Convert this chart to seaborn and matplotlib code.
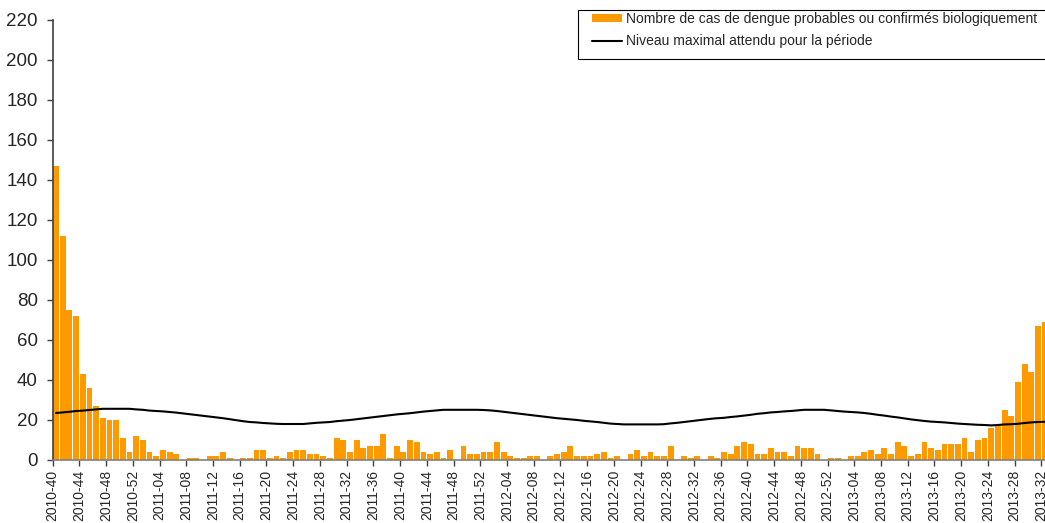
import matplotlib
matplotlib.use("Agg")
import matplotlib.pyplot as plt
import seaborn as sns
import numpy as np
import pandas as pd
from matplotlib.patches import Patch, Rectangle
from matplotlib.lines import Line2D

# ---- data -------------------------------------------------------------
weeks = ([f"2010-{w:02d}" for w in range(40, 53)] +
         [f"2011-{w:02d}" for w in range(1, 53)] +
         [f"2012-{w:02d}" for w in range(1, 53)] +
         [f"2013-{w:02d}" for w in range(1, 33)])

cases = [147, 112, 75, 72, 43, 36, 27, 21, 20, 20, 11, 4, 12,
         10, 4, 2, 5, 4, 3, 0, 1, 1, 0, 2, 2, 4, 1, 0, 1, 1, 5, 5, 1, 2, 1, 4,
         5, 5, 3, 3, 2, 1, 11, 10, 4, 10, 6, 7, 7, 13, 1, 7, 4, 10, 9, 4, 3, 4,
         1, 5, 0, 7, 3, 3, 4,
         4, 9, 4, 2, 1, 1, 2, 2, 0, 2, 3, 4, 7, 2, 2, 2, 3, 4, 1, 2, 0, 3, 5,
         2, 4, 2, 2, 7, 0, 2, 1, 2, 0, 2, 1, 4, 3, 7, 9, 8, 3, 3, 6, 4, 4, 2,
         7, 6, 6, 3, 0, 1,
         1, 0, 2, 2, 4, 5, 3, 6, 3, 9, 7, 2, 3, 9, 6, 5, 8, 8, 8, 11, 4, 10,
         11, 16, 17, 25, 22, 39, 48, 44, 67, 69]

threshold = [23.5, 23.8, 24.1, 24.5, 24.7, 25.0, 25.3, 25.6, 25.6, 25.6, 25.6, 25.6, 25.3,
             25.1, 24.7, 24.5, 24.3, 24.0, 23.7, 23.3, 22.9, 22.5, 22.1, 21.7, 21.3,
             20.9, 20.4, 19.9, 19.4, 19.0, 18.8, 18.5, 18.3, 18.1, 18.0, 18.0, 18.0,
             18.0, 18.3, 18.6, 18.8, 19.0, 19.4, 19.7, 20.0, 20.4, 20.8, 21.2, 21.6,
             22.0, 22.4, 22.8, 23.1, 23.4, 23.8, 24.2, 24.5, 24.8, 25.1, 25.1, 25.1,
             25.1, 25.1, 25.1, 25.0,
             24.8, 24.5, 24.1, 23.7, 23.3, 22.9, 22.5, 22.1, 21.7, 21.3, 20.9, 20.6,
             20.3, 20.0, 19.6, 19.3, 19.0, 18.6, 18.2, 18.0, 17.8, 17.8, 17.8, 17.8,
             17.8, 17.8, 17.9, 18.3, 18.6, 19.0, 19.4, 19.8, 20.2, 20.6, 20.9, 21.1,
             21.5, 21.8, 22.2, 22.6, 23.1, 23.4, 23.8, 24.0, 24.3, 24.5, 24.8, 25.1,
             25.1, 25.1, 25.1, 24.8,
             24.5, 24.2, 24.0, 23.8, 23.5, 23.1, 22.6, 22.2, 21.7, 21.3, 20.8, 20.3,
             19.9, 19.5, 19.2, 19.0, 18.8, 18.5, 18.2, 18.0, 17.8, 17.6, 17.5, 17.3,
             17.5, 17.8, 17.9, 18.1, 18.5, 18.8, 19.0, 19.1]

yticks = list(range(0, 221, 20))
label_step = 4

legend_bar = "Nombre de cas de dengue probables ou confirmés biologiquement"
legend_line = "Niveau maximal attendu pour la période"

# ---- style ------------------------------------------------------------
sns.set_style("white")
plt.rcParams["font.family"] = ["Liberation Sans", "DejaVu Sans"]
plt.rcParams["font.size"] = 10

W, H = 1045, 523
fig = plt.figure(figsize=(W / 100, H / 100), dpi=100)
x0, x1, ytop, ybot = 52.7, 1045, 20, 460
ax = fig.add_axes([x0 / W, 1 - ybot / H, (x1 - x0) / W, (ybot - ytop) / H])

bar_color = "#FF9900"
df = pd.DataFrame({"week": weeks, "cases": cases, "threshold": threshold,
                   "pos": np.arange(len(weeks))})

sns.barplot(data=df, x="week", y="cases", color=bar_color, saturation=1,
            width=0.88, ax=ax, linewidth=0)
sns.lineplot(data=df, x="pos", y="threshold", color="black", lw=1.5, ax=ax)

px_per_bar = 6.68
ax.set_xlim(-0.5, -0.5 + (x1 - x0) / px_per_bar)
ax.set_ylim(0, 220)
ax.set_yticks(yticks)
ax.set_yticklabels([str(v) for v in yticks])
tick_pos = np.arange(0, len(weeks), label_step) - 0.5
ax.set_xticks(tick_pos)
ax.set_xticklabels(weeks[::label_step], rotation=90)
ax.set_xlabel("")
ax.set_ylabel("")

for s in ["top", "right"]:
    ax.spines[s].set_visible(False)
ax.spines["left"].set_color("#404040")
ax.spines["bottom"].set_color("#808080")
ax.spines["left"].set_linewidth(1.2)
ax.spines["bottom"].set_linewidth(1.2)
ax.tick_params(axis="y", direction="out", length=4.3, width=1, color="#404040",
               pad=6.5, labelsize=13.5, left=True)
ax.tick_params(axis="x", direction="out", length=4, width=1, color="#404040",
               pad=3, labelsize=10, bottom=True)
ax.grid(False)

# legend box
fig.patches.append(Rectangle((578 / W, 1 - 59 / H), 0.6, 49 / H,
                             transform=fig.transFigure, fill=False,
                             edgecolor="black", lw=0.8, zorder=5))
handles = [Patch(facecolor=bar_color, edgecolor="none"),
           Line2D([0], [0], color="black", lw=1.5)]
fig.legend(handles, [legend_bar, legend_line], loc="upper left",
           bbox_to_anchor=(592 / W, 1 - 12 / H), frameon=False,
           borderpad=0, borderaxespad=0, handlelength=2.14, handleheight=0.43,
           handletextpad=0.3, labelspacing=0.6, fontsize=10)

fig.savefig("out.png", dpi=100)
